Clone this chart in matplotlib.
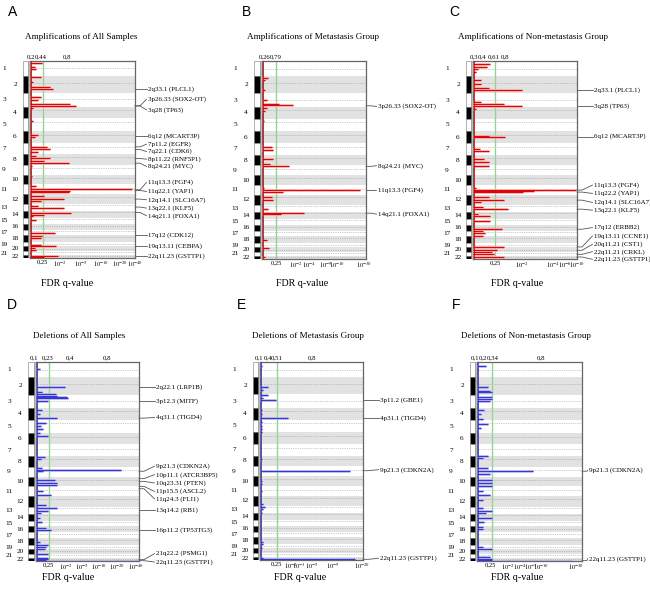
import numpy as np
import matplotlib
matplotlib.use("Agg")
import matplotlib.pyplot as plt
from matplotlib.patches import Rectangle

plt.rcParams['font.family'] = ['Liberation Serif', 'DejaVu Serif']
plt.rcParams['mathtext.fontset'] = 'stix'

RED = "#e00000"; RED_L = "#f4a0a0"; BLUE = "#3434d2"; BLUE_L = "#a8a8ee"
BAND = "#e2e2e2"; GREEN = "#93d393"; FRAME = "#666666"

# ---- genome layout (relative chromosome lengths as drawn, 1..22) ----
chrom_names = [str(i) for i in range(1, 23)]
chrom_len = [45, 52, 40, 35, 38, 35, 35, 32, 30, 28, 30, 30, 22, 20, 17, 18, 17, 20, 13, 15, 10, 10]
centro_frac = [0.50, 0.38, 0.46, 0.26, 0.27, 0.36, 0.38, 0.31, 0.35, 0.30, 0.40, 0.27,
               0.16, 0.16, 0.18, 0.41, 0.30, 0.22, 0.45, 0.44, 0.27, 0.29]

# ---- A: amplifications, all samples (genome pos, score as fraction of axis) ----
a_pos = [7, 17, 25, 49, 62, 79, 85, 107, 117, 129, 135, 142, 179, 222, 227, 257, 265, 272, 285, 292,
         302, 307, 317, 347, 377, 385, 392, 395, 407, 415, 422, 437, 442, 457, 462, 467, 477, 517,
         527, 532, 552, 555, 562, 567, 585, 589]
a_score = [0.11, 0.05, 0.06, 0.10, 0.03, 0.19, 0.22, 0.10, 0.08, 0.38, 0.44, 0.03, 0.03, 0.08, 0.05,
           0.16, 0.19, 0.08, 0.06, 0.19, 0.13, 0.37, 0.02, 0.02, 0.06, 0.97, 0.38, 0.37, 0.13, 0.32,
           0.10, 0.08, 0.32, 0.39, 0.13, 0.03, 0.06, 0.24, 0.11, 0.10, 0.10, 0.25, 0.05, 0.06, 0.27, 0.13]
a_labels = ["2q33.1 (PLCL1)", "3p26.33 (SOX2-OT)", "3q28 (TP63)", "6q12 (MCART3P)", "7p11.2 (EGFR)",
            "7q22.1 (CDK6)", "8p11.22 (RNF5P1)", "8q24.21 (MYC)", "11q13.3 (FGF4)", "11q22.1 (YAP1)",
            "12q14.1 (SLC16A7)", "13q22.1 (KLF5)", "14q21.1 (FOXA1)", "17q12 (CDK12)",
            "19q13.11 (CEBPA)", "22q11.23 (GSTTP1)"]
a_from = [85, 135, 135, 225, 258, 266, 293, 307, 387, 389, 415, 439, 455, 522, 557, 587]
a_at = [85, 115, 147, 225, 250, 272, 295, 317, 365, 392, 417, 442, 465, 522, 557, 587]

# ---- B: amplifications, metastasis group ----
b_pos = [50, 58, 86, 118, 128, 133, 140, 148, 178, 258, 266, 293, 308, 315, 380, 386, 393, 408,
         416, 443, 455, 458, 536, 558, 586]
b_score = [0.06, 0.03, 0.03, 0.05, 0.16, 0.30, 0.05, 0.03, 0.02, 0.10, 0.11, 0.11, 0.08, 0.26, 0.02,
           0.94, 0.20, 0.10, 0.11, 0.06, 0.40, 0.18, 0.05, 0.07, 0.03]
b_labels = ["3p26.33 (SOX2-OT)", "8q24.21 (MYC)", "11q13.3 (FGF4)", "14q21.1 (FOXA1)"]
b_from = [134, 315, 386, 455]
b_at = [136, 313, 386, 458]

# ---- C: amplifications, non-metastasis group ----
c_pos = [8, 18, 25, 33, 58, 68, 80, 86, 123, 130, 136, 143, 223, 226, 263, 270, 293, 303, 313,
         380, 386, 390, 393, 408, 416, 423, 436, 443, 458, 463, 478, 503, 508, 513, 523, 556, 566,
         570, 578, 586, 591]
c_score = [0.16, 0.13, 0.05, 0.03, 0.08, 0.08, 0.15, 0.47, 0.08, 0.30, 0.47, 0.03, 0.15, 0.31, 0.07,
           0.15, 0.11, 0.15, 0.15, 0.03, 0.99, 0.59, 0.48, 0.15, 0.30, 0.08, 0.10, 0.34, 0.05, 0.16,
           0.16, 0.28, 0.10, 0.12, 0.10, 0.30, 0.23, 0.18, 0.20, 0.30, 0.12]
c_labels = ["2q33.1 (PLCL1)", "3q28 (TP63)", "6q12 (MCART3P)", "11q13.3 (FGF4)", "11q22.2 (YAP1)",
            "12q14.1 (SLC16A7)", "13q22.1 (KLF5)", "17q12 (ERBB2)", "19q13.11 (CCNE1)",
            "20q11.21 (CST1)", "22q11.21 (CRKL)", "22q11.23 (GSTTP1)"]
c_from = [86, 136, 226, 386, 392, 416, 443, 503, 556, 566, 578, 586]
c_at = [86, 136, 226, 371, 396, 423, 446, 498, 523, 548, 570, 593]

# ---- D: deletions, all samples ----
d_pos = [20, 75, 90, 95, 100, 103, 107, 115, 143, 155, 167, 180, 190, 200, 210, 220, 282, 290, 315,
         320, 325, 350, 360, 367, 385, 395, 425, 435, 443, 450, 465, 475, 495, 501, 535, 543, 550,
         557, 570, 583, 587, 588, 591]
d_score = [0.04, 0.28, 0.06, 0.19, 0.20, 0.30, 0.31, 0.12, 0.06, 0.04, 0.20, 0.10, 0.05, 0.07, 0.04,
           0.12, 0.09, 0.05, 0.06, 0.83, 0.07, 0.18, 0.20, 0.20, 0.07, 0.15, 0.10, 0.20, 0.12, 0.05,
           0.04, 0.06, 0.10, 0.15, 0.04, 0.12, 0.10, 0.09, 0.12, 0.12, 0.12, 0.10, 1.00]
d_labels = ["2q22.1 (LRP1B)", "3p12.3 (MITF)", "4q31.1 (TIGD4)", "9p21.3 (CDKN2A)",
            "10p11.1 (ATCR3BP5)", "10q23.31 (PTEN)", "11p15.5 (ASCL2)", "11q24.3 (FLI1)",
            "13q14.2 (RB1)", "16p11.2 (TP53TG3)", "21q22.2 (PSMG1)", "22q11.23 (GSTTP1)"]
d_from = [75, 115, 167, 325, 347, 355, 370, 377, 440, 501, 588, 591]
d_at = [75, 115, 165, 310, 335, 360, 385, 407, 440, 501, 570, 595]

# ---- E: deletions, metastasis group ----
e_pos = [13, 75, 83, 100, 107, 115, 143, 155, 167, 180, 190, 200, 210, 290, 325, 355, 365, 385,
         425, 435, 440, 450, 537, 545, 557, 585, 590]
e_score = [0.02, 0.08, 0.03, 0.08, 0.03, 0.16, 0.02, 0.02, 0.27, 0.02, 0.02, 0.02, 0.02, 0.02,
           0.87, 0.02, 0.02, 0.02, 0.03, 0.05, 0.03, 0.02, 0.03, 0.03, 0.02, 0.03, 0.92]
e_labels = ["3p11.2 (GBE1)", "4p31.1 (TIGD4)", "9p21.3 (CDKN2A)", "22q11.23 (GSTTP1)"]
e_from = [115, 167, 325, 590]
e_at = [115, 167, 322, 587]

# ---- F: deletions, non-metastasis group ----
f_pos = [13, 75, 85, 90, 103, 110, 115, 143, 155, 170, 183, 195, 280, 287, 315, 325, 333, 350,
         360, 370, 385, 395, 410, 435, 443, 450, 465, 475, 490, 497, 550, 557, 580, 585, 588, 591]
f_score = [0.09, 0.10, 0.12, 0.14, 0.14, 0.14, 0.12, 0.07, 0.04, 0.06, 0.10, 0.04, 0.10, 0.06,
           0.10, 0.53, 0.12, 0.14, 0.14, 0.14, 0.06, 0.12, 0.06, 0.06, 0.14, 0.09, 0.14, 0.07, 0.06,
           0.06, 0.06, 0.14, 0.12, 0.14, 0.14, 0.90]
f_labels = ["9p21.3 (CDKN2A)", "22q11.23 (GSTTP1)"]
f_from = [325, 591]
f_at = [322, 585]

# ---- axis tick labels (top: G-score, bottom: FDR q-value) ----
a_top = ["0,2", "0,44", "0,8"]; a_bot = ["0,25", "$10^{-2}$", "$10^{-5}$", "$10^{-10}$", "$10^{-20}$", "$10^{-40}$"]
b_top = ["0,26", "0,79"];        b_bot = ["0,25", "$10^{-2}$", "$10^{-4}$", "$10^{-9}$", "$10^{-10}$", "$10^{-30}$"]
c_top = ["0,3", "0,4", "0,61", "0,8"]; c_bot = ["0,25", "$10^{-2}$", "$10^{-4}$", "$10^{-6}$", "$10^{-10}$"]
d_top = ["0,1", "0,23", "0,4", "0,8"]; d_bot = ["0,25", "$10^{-2}$", "$10^{-5}$", "$10^{-10}$", "$10^{-20}$", "$10^{-40}$"]
e_top = ["0,1", "0,4", "0,51", "0,8"]; e_bot = ["0,25", "$10^{-2}$", "$10^{-3}$", "$10^{-5}$", "$10^{-9}$", "$10^{-20}$"]
f_top = ["0,1", "0,2", "0,34", "0,8"]; f_bot = ["0,25", "$10^{-2}$", "$10^{-4}$", "$10^{-7}$", "$10^{-10}$", "$10^{-30}$"]

W, H = 650, 590
fig = plt.figure(figsize=(W / 100, H / 100), dpi=100)
starts = np.concatenate([[0], np.cumsum(chrom_len)[:-1]])
GTOT = float(np.sum(chrom_len))


def px_axes(l, t, r, b):
    return fig.add_axes([l / W, 1 - b / H, (r - l) / W, (b - t) / H])


def ftext(x, y, s, **kw):
    fig.text(x / W, 1 - y / H, s, **kw)


def panel(p):
    L, T, R, B = p["box"]
    pw, ph = R - L, B - T
    ax = px_axes(L, T, R, B)
    ax.set_xlim(0, 1); ax.set_ylim(GTOT, 0)
    ax.set_autoscale_on(False)
    for i, (s, n) in enumerate(zip(starts, chrom_len)):
        if i % 2 == 1:
            ax.axhspan(s, s + n, color=BAND, lw=0, zorder=0)
        ax.axhline(s + centro_frac[i] * n, color="#9a9a9a", lw=0.5, ls=(0, (1, 1.6)), zorder=1)
    ax.axvline(p["green"], color=GREEN, lw=1.0, zorder=2)
    ax.hlines(p["pos"], 0, p["score"], colors=p["light"], lw=1.8, zorder=3)
    ax.hlines(p["pos"], 0, p["score"], colors=p["color"], lw=0.7, zorder=4)
    ax.axvline(0.008, color=p["color"], lw=0.6, zorder=4)
    ax.set_xticks([]); ax.set_yticks([])
    for sp in ax.spines.values():
        sp.set_color(FRAME); sp.set_linewidth(0.9)

    # chromosome bar
    bl = p["bar"]
    cax = px_axes(bl, T, L, B)
    cax.set_xlim(0, 1); cax.set_ylim(GTOT, 0); cax.axis("off")
    cax.add_patch(Rectangle((0.75, 0), 0.25, GTOT, facecolor="#bdbdbd", lw=0))
    for i, (s, n) in enumerate(zip(starts, chrom_len)):
        cax.add_patch(Rectangle((0, s), 0.75, n, facecolor="black" if i % 2 else "white",
                                edgecolor="#777777", lw=0.4))
        dx = -8 if i % 2 else -19
        cax.text(dx / (L - bl), s + n / 2, chrom_names[i], transform=cax.get_yaxis_transform(),
                 ha="center", va="center", fontsize=5.2)

    # top / bottom tick labels
    for lab, x in zip(p["top"], p["top_x"]):
        ax.text(x, 1 + 1.5 / ph, lab, transform=ax.transAxes, ha="center", va="bottom", fontsize=4.9)
    for lab, x in zip(p["bot"], p["bot_x"]):
        ax.text(x, -1.5 / ph, lab, transform=ax.transAxes, ha="center", va="top", fontsize=4.7)

    # peak labels with connectors
    tr = ax.get_yaxis_transform()
    dx = p["text_dx"]
    for lab, yf, ya in zip(p["labels"], p["from"], p["at"]):
        ax.plot([1, 1 + min(5, dx - 2) / pw, 1 + (dx - 1.5) / pw], [yf, yf, ya], transform=tr,
                clip_on=False, color="#555555", lw=0.6)
        ax.text(1 + dx / pw, ya, lab, transform=tr, ha="left", va="center", fontsize=5.0)

    lx, ly = p["letter_xy"]
    ftext(lx, ly, p["letter"], family=["Liberation Sans", "DejaVu Sans"], fontsize=10,
          ha="left", va="center")
    tx, ty = p["title_xy"]
    ftext(tx, ty, p["title"], fontsize=6.6, ha="center", va="center")
    fx, fy = p["fdr_xy"]
    ftext(fx, fy, "FDR q-value", fontsize=7.2, ha="center", va="center")


panels = [
    dict(box=(30, 61, 135, 258), bar=23, color=RED, light=RED_L, pos=a_pos, score=a_score, green=0.127,
         top=a_top, top_x=[0.01, 0.105, 0.357], bot=a_bot, bot_x=[0.114, 0.286, 0.486, 0.676, 0.857, 1.0],
         labels=a_labels, **{"from": a_from}, at=a_at, text_dx=13,
         letter="A", letter_xy=(8, 12), title="Amplifications of All Samples", title_xy=(81, 37),
         fdr_xy=(67, 283)),
    dict(box=(262, 61, 366, 259), bar=254, color=RED, light=RED_L, pos=b_pos, score=b_score, green=0.132,
         top=b_top, top_x=[0.03, 0.13], bot=b_bot, bot_x=[0.14, 0.324, 0.452, 0.61, 0.72, 0.98],
         labels=b_labels, **{"from": b_from}, at=b_at, text_dx=12,
         letter="B", letter_xy=(242, 12), title="Amplifications of Metastasis Group", title_xy=(313, 37),
         fdr_xy=(302, 283)),
    dict(box=(473, 61, 577, 259), bar=466, color=RED, light=RED_L, pos=c_pos, score=c_score, green=0.212,
         top=c_top, top_x=[0.01, 0.09, 0.20, 0.31], bot=c_bot, bot_x=[0.218, 0.468, 0.77, 0.88, 1.0],
         labels=c_labels, **{"from": c_from}, at=c_at, text_dx=17,
         letter="C", letter_xy=(449, 12), title="Amplifications of Non-metastasis Group", title_xy=(533, 37),
         fdr_xy=(517, 283)),
    dict(box=(36, 362, 139, 561), bar=28, color=BLUE, light=BLUE_L, pos=d_pos, score=d_score, green=0.13,
         top=d_top, top_x=[-0.02, 0.117, 0.33, 0.69], bot=d_bot, bot_x=[0.123, 0.288, 0.45, 0.61, 0.79, 0.97],
         labels=d_labels, **{"from": d_from}, at=d_at, text_dx=17,
         letter="D", letter_xy=(7, 305), title="Deletions of All Samples", title_xy=(79, 336),
         fdr_xy=(68, 578)),
    dict(box=(260, 362, 363, 560), bar=253, color=BLUE, light=BLUE_L, pos=e_pos, score=e_score, green=0.168,
         top=e_top, top_x=[-0.01, 0.08, 0.165, 0.505], bot=e_bot, bot_x=[0.155, 0.300, 0.380, 0.508, 0.71, 0.99],
         labels=e_labels, **{"from": e_from}, at=e_at, text_dx=17,
         letter="E", letter_xy=(237, 305), title="Deletions of Metastasis Group", title_xy=(308, 336),
         fdr_xy=(300, 578)),
    dict(box=(477, 362, 582, 561), bar=470, color=BLUE, light=BLUE_L, pos=f_pos, score=f_score, green=0.14,
         top=f_top, top_x=[-0.02, 0.06, 0.15, 0.61], bot=f_bot, bot_x=[0.124, 0.29, 0.41, 0.51, 0.61, 0.94],
         labels=f_labels, **{"from": f_from}, at=f_at, text_dx=7,
         letter="F", letter_xy=(452, 305), title="Deletions of Non-metastasis Group", title_xy=(526, 336),
         fdr_xy=(517, 578)),
]

for p in panels:
    panel(p)

fig.savefig("out.png", dpi=100)
